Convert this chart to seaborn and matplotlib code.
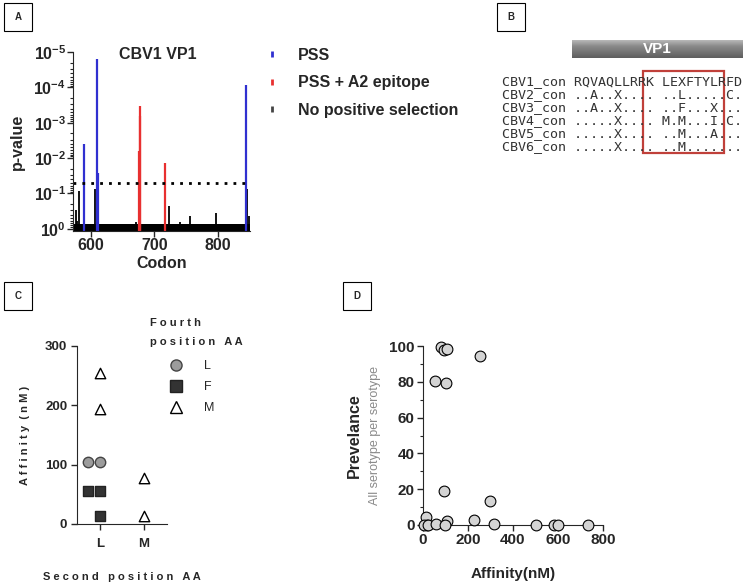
import numpy as np
import pandas as pd
import matplotlib
matplotlib.use("Agg")
import matplotlib.pyplot as plt
from matplotlib.patches import Rectangle
from matplotlib.lines import Line2D
from matplotlib.ticker import LogLocator, NullFormatter, MultipleLocator
import seaborn as sns

# ---- panel A: p-values along CBV1 VP1 ----
pss_codon = [589, 609, 611, 843]
pss_p = [0.004, 1.6e-5, 0.026, 8.5e-5]
a2_codon = [676, 677, 678, 716]
a2_p = [0.0063, 6.3e-4, 3.4e-4, 0.0138]
nps_codon = [577, 579, 582, 606, 671, 723, 740, 756, 796, 845, 849]
nps_p = [0.29, 0.59, 0.085, 0.074, 0.63, 0.22, 0.63, 0.43, 0.35, 0.074, 0.43]
bg_codon = list(range(573, 850))
bg_p = 0.72
cutoff = 0.05
a_yticks = [1, 1e-1, 1e-2, 1e-3, 1e-4, 1e-5]
a_ylabels = [r"$\mathbf{10^{0}}$", r"$\mathbf{10^{-1}}$", r"$\mathbf{10^{-2}}$",
             r"$\mathbf{10^{-3}}$", r"$\mathbf{10^{-4}}$", r"$\mathbf{10^{-5}}$"]

# ---- panel B: consensus alignment ----
align_names = ["CBV1_con", "CBV2_con", "CBV3_con", "CBV4_con", "CBV5_con", "CBV6_con"]
align_seqs = ["RQVAQLLRRK LEXFTYLRFD",
              "..A..X.... ..L.....C.",
              "..A..X.... ..F...X...",
              ".....X.... M.M...I.C.",
              ".....X.... ..M...A...",
              ".....X.... ..M......."]

# ---- panel C: affinity by 2nd / 4th position ----
second_aa = ["L", "L", "L", "L", "L", "L", "L", "M", "M"]
fourth_aa = ["M", "M", "L", "L", "F", "F", "F", "M", "M"]
affinity_c = [254, 193, 104, 104, 56, 56, 14, 77, 14]

# ---- panel D: prevalence vs affinity ----
affinity_d = [78, 92, 105, 253, 53, 104, 92, 296, 15, 16, 3, 21, 58, 105, 98,
              225, 317, 500, 581, 601, 735]
prevalence = [99.3, 97.8, 98.5, 94.6, 80.5, 79.6, 19.1, 13.6, 4.6, 0, 0, 0, 0.7,
              2.2, 0, 2.6, 0.7, 0, 0, 0, 0]

sns.set_style("ticks")
plt.rcParams["font.family"] = ["Liberation Sans", "DejaVu Sans"]
plt.rcParams["mathtext.fontset"] = "custom"
plt.rcParams["mathtext.rm"] = "Liberation Sans"
plt.rcParams["mathtext.bf"] = "Liberation Sans:bold"

W, H = 750, 587
fig = plt.figure(figsize=(7.5, 5.87), dpi=100)


def fx(px):
    return px / W


def fy(py):
    return 1 - py / H


def panel_box(x, y, letter):
    fig.add_artist(Rectangle((fx(x), fy(y + 28)), fx(28), 28 / H, transform=fig.transFigure,
                             fill=False, edgecolor="black", lw=0.8))
    fig.text(fx(x + 14), fy(y + 14), letter, ha="center", va="center", fontsize=7, fontweight="bold")


blue = "#3030d0"
red = "#e83030"

# ---------------- A ----------------
axa = fig.add_axes([fx(73), fy(231), fx(177), (231 - 52) / H])
axa.set_yscale("log")
axa.vlines(bg_codon, 1.15, bg_p, color="black", lw=1.3)
axa.vlines(nps_codon, 1.15, nps_p, color="black", lw=1.3)
axa.vlines(a2_codon, 1.15, a2_p, color=red, lw=1.6)
axa.vlines(pss_codon, 1.15, pss_p, color=blue, lw=1.6)
axa.axhline(cutoff, color="black", ls=(0, (1, 2.2)), lw=2)
axa.set_ylim(1.15, 1e-5)
axa.set_xlim(572, 850)
axa.set_yticks(a_yticks)
axa.set_yticklabels(a_ylabels, fontsize=11.5)
axa.yaxis.set_minor_locator(LogLocator(base=10, subs=np.arange(2, 10)))
axa.yaxis.set_minor_formatter(NullFormatter())
axa.set_xticks([600, 700, 800])
axa.set_xticklabels(["600", "700", "800"], fontsize=11.5, fontweight="bold")
axa.tick_params(which="major", length=4, width=1, pad=1)
axa.tick_params(which="minor", length=2, width=0.8)
sns.despine(ax=axa)
axa.set_xlabel("Codon", fontsize=11.5, fontweight="bold", labelpad=2)
axa.set_ylabel("p-value", fontsize=11.5, fontweight="bold", labelpad=6)
axa.text(0.48, 0.985, "CBV1 VP1", transform=axa.transAxes, ha="center", va="center",
         fontsize=11.5, fontweight="bold")

a_handles = [Line2D([], [], ls="none", marker="|", markersize=5, mew=2, color=c)
             for c in [blue, red, "#444444"]]
fig.legend(a_handles, ["PSS", "PSS + A2 epitope", "No positive selection"],
           loc="upper left", bbox_to_anchor=(fx(264), fy(48)), frameon=False,
           borderpad=0, borderaxespad=0, handlelength=1, handletextpad=1.1,
           labelspacing=0.78, prop={"weight": "bold", "size": 11.5})
panel_box(4, 3, "A")

# ---------------- B ----------------
axb = fig.add_axes([fx(572), fy(58), fx(171), 18 / H])
grad = np.linspace(0, 1, 50).reshape(-1, 1)
axb.imshow(grad, aspect="auto", cmap=matplotlib.colors.LinearSegmentedColormap.from_list(
    "bar", ["#b8b8b8", "#8a8a8a", "#747474", "#5e5e5e"]), extent=[0, 1, 0, 1])
axb.set_axis_off()
axb.text(0.5, 0.5, "VP1", color="white", ha="center", va="center",
         fontsize=11, fontweight="bold", transform=axb.transAxes)
for i, (name, seq) in enumerate(zip(align_names, align_seqs)):
    fig.text(fx(502), fy(81.5 + i * 13.1), name + " " + seq, family="DejaVu Sans Mono",
             fontsize=9.6, va="center", ha="left", color="#333333")
fig.add_artist(Rectangle((fx(643), fy(153)), fx(81), 82 / H, transform=fig.transFigure,
                         fill=False, edgecolor="#c0403a", lw=1.6))
panel_box(497, 3, "B")

# ---------------- C ----------------
axc = fig.add_axes([fx(77), fy(524), fx(90), (524 - 346) / H])
c_df = pd.DataFrame({"second": second_aa, "fourth": fourth_aa, "affinity": affinity_c})
c_styles = {"L": dict(marker="o", color="#9c9c9c", edgecolor="#444444"),
            "F": dict(marker="s", color="#333333", edgecolor="#222222"),
            "M": dict(marker="^", color="white", edgecolor="black")}
for aa in ["L", "F", "M"]:
    sns.swarmplot(data=c_df[c_df["fourth"] == aa], x="second", y="affinity", order=["L", "M"],
                  size=7.5, linewidth=1, ax=axc, **c_styles[aa])
axc.set_xlim(-0.52, 1.52)
axc.set_ylim(0, 300)
axc.set_yticks([0, 100, 200, 300])
axc.tick_params(length=4, width=1, labelsize=9.5)
axc.tick_params(axis="x", pad=6)
axc.tick_params(axis="y", pad=3)
for lab in axc.get_xticklabels() + axc.get_yticklabels():
    lab.set_fontweight("bold")
sns.despine(ax=axc)
axc.set_xlabel("S e c o n d   p o s i t i o n   A A", fontsize=8, fontweight="bold", labelpad=16)
axc.set_ylabel("A f f i n i t y  ( n M )", fontsize=8, fontweight="bold", labelpad=11)
fig.text(fx(150), fy(323), "F o u r t h", fontsize=8, fontweight="bold", va="center")
fig.text(fx(150), fy(342), "p o s i t i o n   A A", fontsize=8, fontweight="bold", va="center")
c_handles = [Line2D([], [], ls="none", marker=c_styles[k]["marker"], markersize=8,
                    markerfacecolor=c_styles[k]["color"], markeredgecolor=c_styles[k]["edgecolor"])
             for k in ["L", "F", "M"]]
fig.legend(c_handles, ["L", "F", "M"], loc="upper left", bbox_to_anchor=(fx(170), fy(360)),
           frameon=False, borderpad=0, borderaxespad=0, handlelength=1, handletextpad=1.7,
           labelspacing=0.72, prop={"size": 9})
panel_box(4, 282, "C")

# ---------------- D ----------------
axd = fig.add_axes([fx(423), fy(525), fx(180), (525 - 346) / H])
d_df = pd.DataFrame({"affinity": affinity_d, "prevalence": prevalence})
sns.scatterplot(data=d_df, x="affinity", y="prevalence", s=60, color="#d4d4d4",
                edgecolor="black", linewidth=0.8, ax=axd, clip_on=False, zorder=3)
axd.set_xlim(0, 800)
axd.set_ylim(0, 100)
axd.set_xticks([0, 200, 400, 600, 800])
axd.set_yticks([0, 20, 40, 60, 80, 100])
axd.yaxis.set_minor_locator(MultipleLocator(10))
axd.tick_params(which="major", length=4, width=1, pad=2, labelsize=11)
axd.tick_params(which="minor", length=2, width=0.8)
for lab in axd.get_xticklabels() + axd.get_yticklabels():
    lab.set_fontweight("bold")
sns.despine(ax=axd)
axd.set_xlabel("Affinity(nM)", fontsize=11, fontweight="bold", labelpad=14)
axd.set_ylabel("Prevelance", fontsize=11.5, fontweight="bold", labelpad=20)
axd.text(-0.267, 0.5, "All serotype per serotype", transform=axd.transAxes, rotation=90,
         ha="center", va="center", fontsize=9, color="#8a8a8a")
panel_box(343, 282, "D")

fig.savefig("out.png", dpi=100)
